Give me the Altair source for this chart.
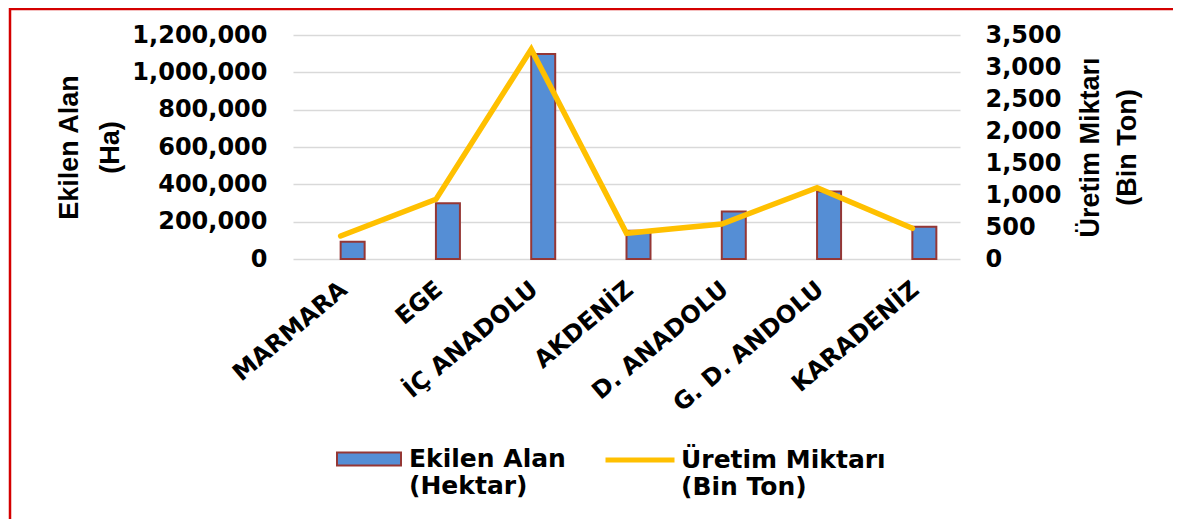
import altair as alt
import pandas as pd

regions = ["MARMARA", "EGE", "İÇ ANADOLU", "AKDENİZ", "D. ANADOLU", "G. D. ANDOLU", "KARADENİZ"]
area_ha = [93000, 298000, 1098000, 151000, 254000, 361000, 173000]
production_kt = [359, 932, 3276, 401, 547, 1115, 479]
area_name = "Ekilen Alan|(Hektar)"
prod_name = "Üretim Miktarı|(Bin Ton)"
left_ticks = [0, 200000, 400000, 600000, 800000, 1000000, 1200000]
right_ticks = [0, 500, 1000, 1500, 2000, 2500, 3000, 3500]
left_title = ["Ekilen Alan", "(Ha)"]
right_title = ["Üretim Miktarı", "(Bin Ton)"]

df = pd.DataFrame({"region": regions, "area": area_ha, "prod": production_kt,
                   "s1": area_name, "s2": prod_name})

W, H = 667, 224
FONT = "DejaVu Sans"
TFONT = "Liberation Sans"

x_enc = alt.X("region:N", sort=regions,
              scale=alt.Scale(paddingInner=0, paddingOuter=0),
              axis=alt.Axis(title=None, labelAngle=-40, labelFont=FONT, labelFontSize=24,
                            labelFontWeight="bold", labelColor="black", labelPadding=18,
                            labelOffset=-4, ticks=False, domain=False, labelLimit=400))

bars = alt.Chart(df).mark_bar(width=24, xOffset=12, stroke="#953735", strokeWidth=2).encode(
    x=x_enc,
    y=alt.Y("area:Q", scale=alt.Scale(domain=[0, 1200000], nice=False),
            axis=alt.Axis(values=left_ticks, format=",.0f", orient="left", grid=True,
                          gridColor="#D9D9D9", gridWidth=1.6, ticks=False, domain=False,
                          labelFont=FONT, labelFontSize=24, labelFontWeight="bold",
                          labelColor="black", labelPadding=26,
                          title=left_title, titleFont=TFONT, titleFontSize=27,
                          titleFontWeight="bold", titleColor="black", titleAngle=270,
                          titleX=-216, titleY=112, titleAlign="center",
                          titleBaseline="alphabetic", titleLineHeight=41)),
    fill=alt.Fill("s1:N", scale=alt.Scale(domain=[area_name], range=["#558ED5"]),
                  legend=alt.Legend(orient="none", legendX=43, legendY=391, title=None,
                                    symbolType="M-1,-0.203H1V0.203H-1Z", symbolSize=4096,
                                    symbolStrokeColor="#953735", symbolStrokeWidth=2,
                                    labelExpr="split(datum.label, '|')", labelFont=FONT,
                                    labelFontSize=25, labelFontWeight="bold",
                                    labelColor="black", labelBaseline="middle",
                                    labelOffset=7, labelLimit=400, padding=0)),
)

line = alt.Chart(df).mark_line(strokeWidth=5.5, strokeCap="round", strokeJoin="miter").encode(
    x=x_enc,
    y=alt.Y("prod:Q", scale=alt.Scale(domain=[0, 3500], nice=False),
            axis=alt.Axis(values=right_ticks, format=",.0f", orient="right", grid=False,
                          ticks=False, domain=False,
                          labelFont=FONT, labelFontSize=24, labelFontWeight="bold",
                          labelColor="black", labelPadding=25,
                          title=right_title, titleFont=TFONT, titleFontSize=27,
                          titleFontWeight="bold", titleColor="black", titleAngle=270,
                          titleX=138, titleY=112, titleAlign="center",
                          titleBaseline="alphabetic", titleLineHeight=37)),
    stroke=alt.Stroke("s2:N", scale=alt.Scale(domain=[prod_name], range=["#FFC000"]),
                      legend=alt.Legend(orient="none", legendX=310, legendY=388, title=None,
                                        symbolType="M-1,0H1", symbolSize=4761,
                                        symbolStrokeWidth=5,
                                        labelExpr="split(datum.label, '|')", labelFont=FONT,
                                        labelFontSize=25, labelFontWeight="bold",
                                        labelColor="black", labelBaseline="middle",
                                        labelOffset=4, labelLimit=400, padding=0)),
)

one = pd.DataFrame({"k": [0]})
frame_left = alt.Chart(one).mark_rule(color="#D40000", strokeWidth=2.5, clip=False).encode(
    x=alt.value(-283), y=alt.value(-27), y2=alt.value(484))
frame_top = alt.Chart(one).mark_rule(color="#D40000", strokeWidth=2.5, clip=False).encode(
    y=alt.value(-26), x=alt.value(-284), x2=alt.value(880))

chart = alt.layer(bars, line, frame_left, frame_top).resolve_scale(
    y="independent", fill="independent", stroke="independent"
).properties(
    width=W, height=H,
    autosize=alt.AutoSizeParams(type="none"),
    padding={"left": 285, "top": 27, "right": 213, "bottom": 260},
    background="white",
).configure_view(stroke=None)

chart.save("out.html", embed_options={"renderer": "svg", "actions": False})
